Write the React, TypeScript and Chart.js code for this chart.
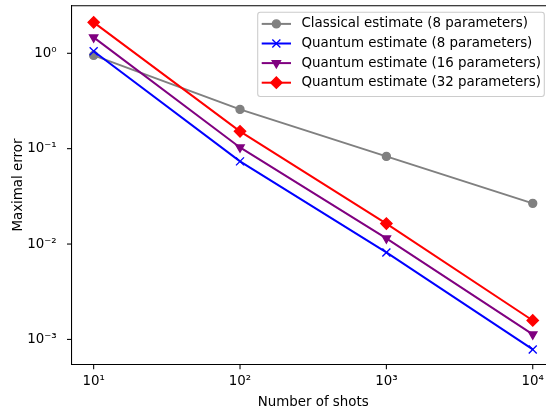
import React, { useEffect, useRef } from 'react';
import { Chart, registerables } from 'chart.js';
import { drawPoint } from 'chart.js/helpers';

Chart.register(...registerables);

// ---------- data ----------
const shots = [10, 100, 1000, 10000];
const classical8 = [0.95, 0.258, 0.083, 0.0267];
const quantum8 = [1.05, 0.0736, 0.00816, 0.000785];
const quantum16 = [1.47, 0.103, 0.01145, 0.00113];
const quantum32 = [2.11, 0.152, 0.0164, 0.00158];
const seriesLabels = [
  'Classical estimate (8 parameters)',
  'Quantum estimate (8 parameters)',
  'Quantum estimate (16 parameters)',
  'Quantum estimate (32 parameters)',
];
const xTickLabels: Record<string, string> = { '1': '10¹', '2': '10²', '3': '10³', '4': '10⁴' };
const yTickLabels: Record<string, string> = { '0': '10⁰', '-1': '10⁻¹', '-2': '10⁻²', '-3': '10⁻³' };
const xAxisTitle = 'Number of shots';
const yAxisTitle = 'Maximal error';

// ---------- styles ----------
const FONT = "'DejaVu Sans', sans-serif";
const FS = 13.4;
const X_MIN = Math.pow(10, 0.85);
const X_MAX = Math.pow(10, 4.15);
const Y_MIN = Math.pow(10, -3.263);
const Y_MAX = Math.pow(10, 0.499);

const styles = [
  { color: '#808080', pointStyle: 'circle', radius: 4, rotation: 0 },
  { color: '#0000ff', pointStyle: 'crossRot', radius: 5.66, rotation: 0 },
  { color: '#800080', pointStyle: 'triangle', radius: 4.8, rotation: 180 },
  { color: '#ff0000', pointStyle: 'rectRot', radius: 5.66, rotation: 0 },
];

const isMajor = (v: number) => {
  const l = Math.log10(v);
  return Math.abs(l - Math.round(l)) < 1e-9;
};

const buildLogTicks = (scale: any) => {
  const ticks: any[] = [];
  const e0 = Math.floor(Math.log10(scale.min));
  const e1 = Math.ceil(Math.log10(scale.max));
  for (let e = e0; e <= e1; e++) {
    for (let m = 1; m <= 9; m++) {
      const v = m * Math.pow(10, e);
      if (v >= scale.min * 0.999999 && v <= scale.max * 1.000001) ticks.push({ value: v });
    }
  }
  scale.ticks = ticks;
};

const zeroPad = (s: any) => {
  s.paddingLeft = 0;
  s.paddingRight = 0;
  s.paddingTop = 0;
  s.paddingBottom = 0;
};

const tickMarks = {
  id: 'tickMarks',
  afterDraw(chart: any) {
    const ctx = chart.ctx;
    const xs = chart.scales.x;
    const ys = chart.scales.y;
    const area = chart.chartArea;
    ctx.save();
    ctx.strokeStyle = '#000';
    for (const t of xs.ticks) {
      const major = isMajor(t.value);
      const px = xs.getPixelForValue(t.value);
      ctx.lineWidth = major ? 1.07 : 0.8;
      ctx.beginPath();
      ctx.moveTo(px, area.bottom);
      ctx.lineTo(px, area.bottom + (major ? 4.7 : 2.7));
      ctx.stroke();
    }
    for (const t of ys.ticks) {
      const major = isMajor(t.value);
      const py = ys.getPixelForValue(t.value);
      ctx.lineWidth = major ? 1.07 : 0.8;
      ctx.beginPath();
      ctx.moveTo(area.left, py);
      ctx.lineTo(area.left - (major ? 4.7 : 2.7), py);
      ctx.stroke();
    }
    // top and right spines
    ctx.lineWidth = 1.07;
    ctx.beginPath();
    ctx.moveTo(area.left, area.top);
    ctx.lineTo(area.right, area.top);
    ctx.lineTo(area.right, area.bottom);
    ctx.stroke();
    ctx.restore();
  },
};

const LEG = { left: 257.7, top: 12.3, right: 544.3, bottom: 96.5, h0: 261.7, h1: 291, tx: 301.5, row0: 23.9, step: 19.6 };

const legendPlugin = {
  id: 'mplLegend',
  afterDraw(chart: any) {
    const ctx = chart.ctx;
    ctx.save();
    ctx.beginPath();
    (ctx as any).roundRect(LEG.left, LEG.top, LEG.right - LEG.left, LEG.bottom - LEG.top, 2.7);
    ctx.fillStyle = 'rgba(255,255,255,0.8)';
    ctx.fill();
    ctx.strokeStyle = '#cccccc';
    ctx.lineWidth = 1.07;
    ctx.stroke();
    seriesLabels.forEach((label, i) => {
      const s = styles[i];
      const y = LEG.row0 + i * LEG.step;
      ctx.strokeStyle = s.color;
      ctx.fillStyle = s.color;
      ctx.lineWidth = 2;
      ctx.beginPath();
      ctx.moveTo(LEG.h0, y);
      ctx.lineTo(LEG.h1, y);
      ctx.stroke();
      ctx.lineWidth = 1.34;
      drawPoint(ctx, { pointStyle: s.pointStyle as any, rotation: s.rotation, radius: s.radius, borderWidth: 1.34 }, (LEG.h0 + LEG.h1) / 2, y);
      ctx.fillStyle = '#000';
      ctx.font = `${FS}px ${FONT}`;
      ctx.textBaseline = 'middle';
      ctx.textAlign = 'left';
      ctx.fillText(label, LEG.tx, y);
    });
    ctx.restore();
  },
};

export default function App() {
  const ref = useRef<HTMLCanvasElement | null>(null);
  useEffect(() => {
    document.body.style.margin = '0';
    if (!ref.current) return;
    const series = [classical8, quantum8, quantum16, quantum32];
    const datasets = series.map((vals, i) => ({
      label: seriesLabels[i],
      data: shots.map((x, j) => ({ x, y: vals[j] })),
      borderColor: styles[i].color,
      backgroundColor: styles[i].color,
      borderWidth: 2,
      pointStyle: styles[i].pointStyle as any,
      pointRadius: styles[i].radius,
      pointRotation: styles[i].rotation,
      pointBorderWidth: 1.34,
      pointBorderColor: styles[i].color,
      pointBackgroundColor: styles[i].color,
      pointHoverRadius: styles[i].radius,
      tension: 0,
      order: 4 - i,
      clip: false as any,
    }));
    const font = { family: FONT, size: FS, lineHeight: 1.2 };
    const chart = new Chart(ref.current, {
      type: 'line',
      data: { datasets },
      options: {
        responsive: false,
        animation: false,
        devicePixelRatio: 1,
        events: [],
        layout: { autoPadding: false, padding: { top: 5.7, right: 1.3, left: 0, bottom: 0 } },
        plugins: { legend: { display: false }, tooltip: { enabled: false } },
        scales: {
          x: {
            type: 'logarithmic',
            min: X_MIN,
            max: X_MAX,
            grid: { display: false },
            border: { display: true, color: '#000', width: 1.07 },
            afterBuildTicks: buildLogTicks,
            afterFit: (s: any) => { s.height = 47.5; zeroPad(s); },
            ticks: {
              autoSkip: false,
              maxRotation: 0,
              padding: 1,
              color: '#000',
              font,
              callback: (v: any) => (isMajor(Number(v)) ? xTickLabels[String(Math.round(Math.log10(Number(v))))] ?? null : null),
            },
            title: { display: true, text: xAxisTitle, color: '#000', font, padding: { top: 0, bottom: 1.3 } },
          },
          y: {
            type: 'logarithmic',
            min: Y_MIN,
            max: Y_MAX,
            grid: { display: false },
            border: { display: true, color: '#000', width: 1.07 },
            afterBuildTicks: buildLogTicks,
            afterFit: (s: any) => { s.width = 71.7; zeroPad(s); },
            ticks: {
              autoSkip: false,
              padding: 7,
              color: '#000',
              font,
              callback: (v: any) => (isMajor(Number(v)) ? yTickLabels[String(Math.round(Math.log10(Number(v))))] ?? null : null),
            },
            title: { display: true, text: yAxisTitle, color: '#000', font, padding: { top: 10.5, bottom: 0 } },
          },
        },
      },
      plugins: [tickMarks, legendPlugin],
    });
    return () => chart.destroy();
  }, []);
  return (
    <div style={{ width: 546, height: 412, overflow: 'hidden', position: 'relative' }}>
      <canvas ref={ref} width={556} height={412} style={{ display: 'block' }} />
    </div>
  );
}
